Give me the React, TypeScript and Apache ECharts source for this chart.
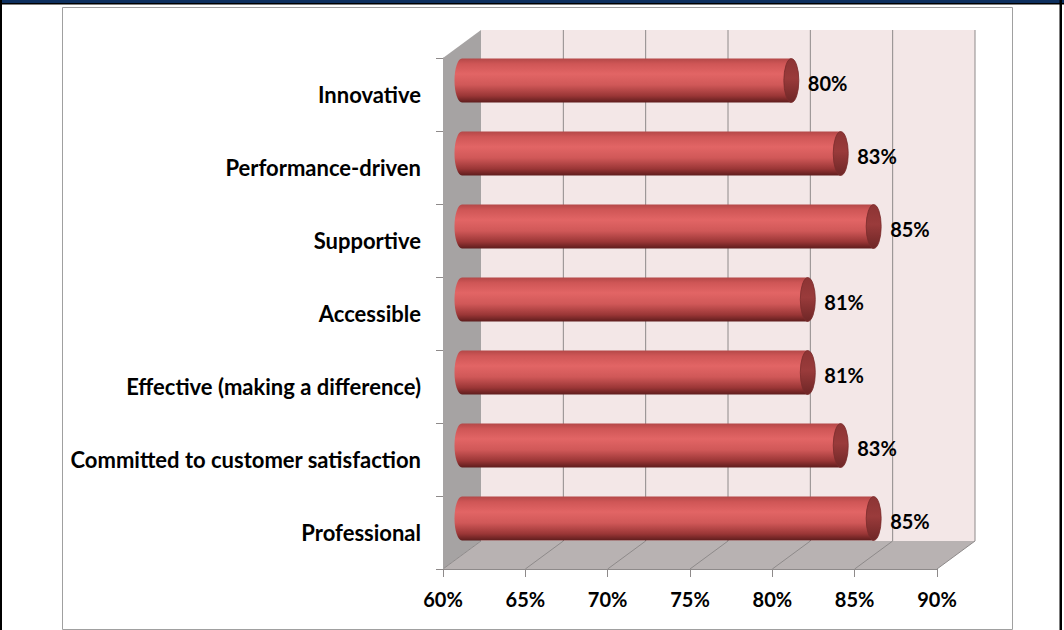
import React, { useEffect, useRef } from "react";
import * as echarts from "echarts";

// Survey attributes, listed top to bottom
const categories = [
  "Innovative",
  "Performance-driven",
  "Supportive",
  "Accessible",
  "Effective (making a difference)",
  "Committed to customer satisfaction",
  "Professional",
];
// Share of respondents (%)
const values = [80, 83, 85, 81, 81, 83, 85];

// Value axis range
const X_MIN = 60;
const X_MAX = 90;
const X_STEP = 5;

// 3D box depth (screen offset from front plane to back wall)
const DEPTH_X = 38;
const DEPTH_Y = -28;
const FONT = "Lato, 'Open Sans', sans-serif";

export default function App() {
  const ref = useRef<HTMLDivElement>(null);

  useEffect(() => {
    if (!ref.current) return;
    const chart = echarts.init(ref.current, null, { renderer: "svg" });

    const tickValues: number[] = [];
    for (let t = X_MIN; t <= X_MAX; t += X_STEP) tickValues.push(t);

    const renderWalls = (params: any, api: any) => {
      const cs = params.coordSys;
      const left = cs.x;
      const top = cs.y;
      const right = cs.x + cs.width;
      const bottom = cs.y + cs.height;
      const children: any[] = [];
      // side wall
      children.push({
        type: "polygon",
        shape: {
          points: [
            [left, top],
            [left + DEPTH_X, top + DEPTH_Y],
            [left + DEPTH_X, bottom + DEPTH_Y],
            [left, bottom],
          ],
        },
        style: { fill: "#a6a3a3" },
      });
      // back wall
      children.push({
        type: "rect",
        shape: {
          x: left + DEPTH_X,
          y: top + DEPTH_Y,
          width: right - left,
          height: bottom - top,
        },
        style: { fill: "#f3e7e7" },
      });
      // floor
      children.push({
        type: "polygon",
        shape: {
          points: [
            [left, bottom],
            [left + DEPTH_X, bottom + DEPTH_Y],
            [right + DEPTH_X, bottom + DEPTH_Y],
            [right, bottom],
          ],
        },
        style: { fill: "#b8b2b2" },
      });
      tickValues.forEach((t, i) => {
        const x = api.coord([t, 0])[0];
        // floor grid line
        children.push({
          type: "line",
          shape: { x1: x, y1: bottom, x2: x + DEPTH_X, y2: bottom + DEPTH_Y },
          style: { stroke: "#8e8a8a", lineWidth: 1 },
        });
        // back wall grid line
        if (i > 0) {
          children.push({
            type: "line",
            shape: {
              x1: x + DEPTH_X,
              y1: bottom + DEPTH_Y,
              x2: x + DEPTH_X,
              y2: top + DEPTH_Y,
            },
            style: { stroke: "#8e8a8a", lineWidth: 1 },
          });
        }
      });
      return { type: "group", children };
    };

    const bodyFill = new echarts.graphic.LinearGradient(0, 0, 0, 1, [
      { offset: 0, color: "#b44848" },
      { offset: 0.12, color: "#cf5656" },
      { offset: 0.35, color: "#e26565" },
      { offset: 0.6, color: "#d05858" },
      { offset: 0.85, color: "#9a3636" },
      { offset: 1, color: "#5f1d1d" },
    ]);
    const capFill = new echarts.graphic.LinearGradient(0, 0, 0, 1, [
      { offset: 0, color: "#8c3434" },
      { offset: 0.45, color: "#9a3b3b" },
      { offset: 1, color: "#6e2626" },
    ]);

    const renderBar = (params: any, api: any) => {
      const v = api.value(0);
      const c = api.value(1);
      const p0 = api.coord([X_MIN, c]);
      const p1 = api.coord([v, c]);
      const band = api.size([0, 1])[1];
      const h = band * 0.6;
      const rx = 7.5;
      const ry = h / 2;
      const cy = p0[1] + DEPTH_Y / 2;
      const x0 = p0[0] + DEPTH_X / 2;
      const x1 = p1[0] + DEPTH_X / 2;
      const t = cy - ry;
      const b = cy + ry;
      const body = `M${x0},${t} L${x1},${t} L${x1},${b} L${x0},${b} A${rx},${ry} 0 0 1 ${x0},${t} Z`;
      const cap = `M${x1},${t} A${rx},${ry} 0 0 1 ${x1},${b} A${rx},${ry} 0 0 1 ${x1},${t} Z`;
      return {
        type: "group",
        children: [
          { type: "path", shape: { pathData: body }, style: { fill: bodyFill } },
          {
            type: "path",
            shape: { pathData: cap },
            style: { fill: capFill, stroke: "#7a2c2c", lineWidth: 0.8 },
          },
          {
            type: "text",
            x: x1 + rx + 9,
            y: cy + 2,
            style: {
              text: `${v}%`,
              font: `bold 20px ${FONT}`,
              fill: "#000",
              align: "left",
              verticalAlign: "middle",
            },
          },
        ],
      };
    };

    chart.setOption({
      animation: false,
      backgroundColor: "#ffffff",
      graphic: [
        { type: "rect", shape: { x: 0, y: 0, width: 1064, height: 3 }, style: { fill: "#0d2f5e" } },
        { type: "rect", shape: { x: 0, y: 3, width: 1064, height: 1.5 }, style: { fill: "#000" } },
        { type: "rect", shape: { x: 0, y: 0, width: 2, height: 630 }, style: { fill: "#000" } },
        { type: "rect", shape: { x: 1059.5, y: 0, width: 2.5, height: 630 }, style: { fill: "#000" } },
        {
          type: "rect",
          shape: { x: 62.5, y: 7.5, width: 950, height: 622 },
          style: { fill: "none", stroke: "#a0a0a0", lineWidth: 1 },
        },
      ],
      grid: { left: 443, top: 58, width: 494, height: 511, containLabel: false },
      xAxis: {
        type: "value",
        min: X_MIN,
        max: X_MAX,
        interval: X_STEP,
        z: 5,
        axisLine: { show: true, lineStyle: { color: "#8e8a8a", width: 1 } },
        axisTick: { show: true, length: 8, lineStyle: { color: "#8e8a8a" } },
        splitLine: { show: false },
        axisLabel: {
          formatter: "{value}%",
          margin: 20,
          color: "#000",
          fontSize: 20,
          fontWeight: "bold",
          fontFamily: FONT,
        },
      },
      yAxis: {
        type: "category",
        data: categories,
        inverse: true,
        z: 5,
        axisLine: { show: true, lineStyle: { color: "#a6a3a3", width: 1 } },
        axisTick: { show: true, length: 7, lineStyle: { color: "#8e8a8a" } },
        axisLabel: {
          margin: 22,
          color: "#000",
          fontSize: 22,
          fontWeight: "bold",
          fontFamily: FONT,
        },
      },
      series: [
        {
          type: "custom",
          name: "walls",
          z: 1,
          clip: false,
          silent: true,
          renderItem: renderWalls,
          data: [[X_MIN, 0]],
          encode: { x: 0, y: 1 },
        },
        {
          type: "custom",
          name: "share",
          z: 3,
          clip: false,
          renderItem: renderBar,
          data: values.map((v, i) => [v, i]),
          encode: { x: 0, y: 1 },
        },
      ],
    });

    return () => chart.dispose();
  }, []);

  return (
    <div
      ref={ref}
      style={{ position: "fixed", left: 0, top: 0, width: 1064, height: 630 }}
    />
  );
}
